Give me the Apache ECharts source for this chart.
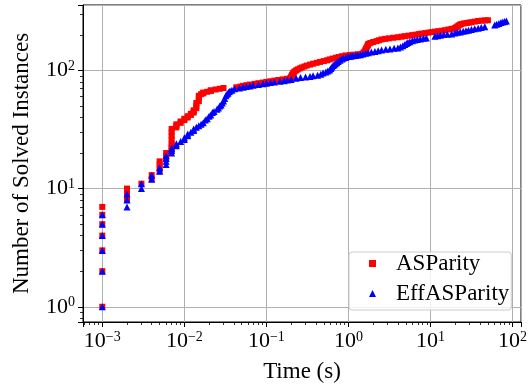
<!DOCTYPE html>
<html>
<head>
<meta charset="utf-8">
<script src="https://cdn.jsdelivr.net/npm/echarts@6/dist/echarts.min.js"></script>
<style>
  html, body { margin: 0; padding: 0; background: #fff; }
  #chart { width: 531px; height: 388px; }
</style>
</head>
<body>
<div id="chart"></div>
<script>
// [time (s), number of solved instances]
const asParity = [
  [0.001, 1], [0.001, 2], [0.001, 3], [0.001, 4], [0.001, 5], [0.001, 6], [0.001, 7],
  [0.002, 8], [0.002, 9], [0.002, 10], [0.003, 11], [0.004, 12], [0.004, 13],
  [0.005, 14], [0.005, 15], [0.005, 16], [0.005, 17], [0.006, 18], [0.006, 19], [0.006, 20],
  [0.007, 21], [0.007, 22], [0.007, 23], [0.007, 24], [0.007, 26], [0.007, 28], [0.007, 30], [0.007, 32],
  [0.008, 33], [0.008, 34], [0.008, 35], [0.009, 36], [0.009, 37], [0.01, 38], [0.01, 39],
  [0.011, 40], [0.011, 41], [0.012, 42], [0.012, 43], [0.013, 44], [0.013, 45], [0.013, 46],
  [0.014, 48], [0.014, 50], [0.014, 53], [0.015, 55], [0.015, 58], [0.015, 61],
  [0.016, 63], [0.017, 64], [0.017, 65], [0.019, 66], [0.021, 67], [0.021, 68], [0.024, 69], [0.027, 70],
  [0.03, 71], [0.043, 72], [0.048, 73], [0.052, 74], [0.057, 75], [0.063, 76], [0.072, 77],
  [0.08, 78], [0.09, 79], [0.1, 80], [0.112, 81], [0.125, 82], [0.14, 83], [0.158, 84], [0.178, 85], [0.195, 86],
  [0.2, 88], [0.203, 90], [0.206, 92], [0.21, 94], [0.215, 96], [0.22, 98], [0.23, 100], [0.24, 102],
  [0.255, 104], [0.27, 106], [0.29, 108], [0.31, 110], [0.34, 112], [0.37, 114], [0.41, 116], [0.45, 118],
  [0.5, 120], [0.55, 122], [0.59, 124], [0.64, 126], [0.7, 128], [0.76, 130], [0.83, 132], [0.92, 134],
  [1.04, 135], [1.15, 136], [1.3, 137], [1.45, 138],
  [1.52, 141], [1.56, 144], [1.6, 148], [1.63, 152], [1.66, 156], [1.7, 160], [1.72, 164], [1.75, 168],
  [1.85, 171], [2.0, 174], [2.2, 177], [2.35, 180], [2.53, 183], [2.8, 185], [3.1, 187], [3.5, 189],
  [4.0, 191], [4.4, 193], [4.86, 195], [5.4, 197], [6.0, 199], [6.6, 201], [7.2, 203], [7.76, 205],
  [8.6, 207], [9.4, 209], [10.3, 211], [11.3, 213], [12.4, 215], [13.7, 217], [15, 219], [16.5, 222],
  [18, 225], [19.8, 228], [20.6, 232], [21.3, 236], [22, 240], [22.8, 244], [23.8, 247], [25.5, 250],
  [27.5, 252], [29.5, 254], [31.5, 256], [34.6, 259], [38, 262], [42, 264], [46, 265], [50, 266]
];

const effAsParity = [
  [0.001, 1], [0.001, 2], [0.001, 3], [0.001, 4], [0.001, 5], [0.001, 6],
  [0.002, 7], [0.002, 8], [0.002, 9], [0.003, 10], [0.003, 11], [0.004, 12], [0.004, 13],
  [0.005, 14], [0.005, 15], [0.006, 16], [0.006, 17], [0.006, 18], [0.006, 19],
  [0.007, 20], [0.007, 21], [0.007, 22], [0.008, 23], [0.008, 24], [0.009, 25], [0.01, 26], [0.01, 27],
  [0.011, 28], [0.011, 29], [0.012, 30], [0.013, 31], [0.013, 32], [0.014, 33], [0.015, 34], [0.016, 35],
  [0.017, 36], [0.018, 38], [0.019, 39], [0.02, 41], [0.021, 42], [0.022, 44], [0.023, 45], [0.025, 47],
  [0.026, 48], [0.027, 50], [0.028, 51], [0.029, 53], [0.03, 55], [0.031, 58], [0.032, 61], [0.033, 63],
  [0.034, 64], [0.035, 66], [0.036, 67], [0.038, 68], [0.041, 70], [0.047, 71], [0.052, 72], [0.057, 73],
  [0.063, 74], [0.069, 75], [0.08, 76], [0.091, 77], [0.1, 78], [0.112, 79], [0.125, 80], [0.146, 81],
  [0.165, 82], [0.18, 83], [0.2, 84], [0.23, 86], [0.26, 87], [0.3, 88], [0.34, 89], [0.37, 90],
  [0.42, 91], [0.46, 93], [0.49, 95], [0.53, 97], [0.56, 99], [0.59, 101], [0.61, 104], [0.63, 107],
  [0.65, 110], [0.67, 112], [0.69, 114], [0.72, 116], [0.75, 119], [0.79, 122], [0.83, 125], [0.86, 127],
  [0.93, 129], [1.0, 131], [1.07, 132], [1.13, 133], [1.22, 134], [1.3, 135], [1.4, 136], [1.5, 138],
  [1.62, 140], [1.74, 141], [1.9, 143], [2.1, 145], [2.3, 147], [2.53, 149], [2.85, 151], [3.2, 152],
  [3.6, 154], [4.0, 155], [4.3, 158], [4.6, 162], [4.86, 166], [5.1, 169], [5.3, 172], [5.6, 175],
  [6.0, 178], [6.4, 181], [6.9, 183], [7.5, 185], [8.2, 187], [8.9, 188],
  [11.3, 195], [12.2, 197], [13.2, 199], [14.5, 201], [16, 202], [18.1, 203],
  [19.8, 207], [21.3, 210], [23, 212], [25, 215], [27, 217], [29, 219], [31.5, 222], [34.5, 225],
  [38, 228], [41.5, 231], [45.8, 234],
  [60.5, 242], [64, 246], [68, 250], [72, 254], [76, 257], [80, 260], [84, 262]
];

const seriesNames = ["ASParity", "EffASParity"];
const xRange = [0.000582, 126.5];
const yRange = [0.743, 358];

const serif = "'Liberation Serif', 'DejaVu Serif', serif";

function powLabel(value) {
  const e = Math.round(Math.log10(value));
  return "{b|10}{s|" + (e < 0 ? "\u2212" + -e : e) + "}";
}

function tickLabels(margin) {
  return {
    showMinLabel: false,
    showMaxLabel: false,
    margin: margin,
    fontFamily: serif,
    fontSize: 22,
    color: "#000",
    formatter: powLabel,
    rich: {
      b: { fontFamily: serif, fontSize: 22, color: "#000" },
      s: { fontFamily: serif, fontSize: 14, color: "#000", verticalAlign: "top" },
    },
  };
}

function logAxis(range, name, nameGap, labelMargin) {
  return {
    type: "log",
    logBase: 10,
    min: range[0],
    max: range[1],
    name: name,
    nameLocation: "middle",
    nameGap: nameGap,
    nameTextStyle: { fontFamily: serif, fontSize: 23, color: "#000" },
    axisLine: { show: true, lineStyle: { color: "#000", width: 1 } },
    axisTick: { show: true, inside: false, length: 5, lineStyle: { color: "#000", width: 1 } },
    minorTick: { show: true, splitNumber: 9, length: 3, lineStyle: { color: "#000", width: 0.8 } },
    splitLine: { show: true, lineStyle: { color: "#b0b0b0", width: 1 } },
    axisLabel: tickLabels(labelMargin),
  };
}

const chart = echarts.init(document.getElementById("chart"));
chart.setOption({
  animation: false,
  backgroundColor: "#fff",
  grid: {
    left: 83,
    right: 10,
    top: 5,
    bottom: 65,
    show: true,
    borderColor: "#000",
    borderWidth: 1,
  },
  legend: {
    orient: "vertical",
    left: 349,
    top: 252,
    padding: [0, 2, 5, 20],
    itemWidth: 7,
    itemHeight: 7,
    itemGap: 7,
    borderColor: "#cccccc",
    borderWidth: 1,
    borderRadius: 3,
    backgroundColor: "rgba(255,255,255,0.8)",
    textStyle: { fontFamily: serif, fontSize: 23, lineHeight: 18, color: "#000", padding: [0, 0, 0, 15] },
    data: seriesNames,
  },
  xAxis: logAxis(xRange, "Time (s)", 38, 8),
  yAxis: logAxis(yRange, "Number of Solved Instances", 50, 8),
  series: [
    {
      name: seriesNames[0],
      type: "scatter",
      symbol: "rect",
      symbolSize: 6,
      itemStyle: { color: "#ff0000", opacity: 1 },
      data: asParity,
    },
    {
      name: seriesNames[1],
      type: "scatter",
      symbol: "triangle",
      symbolSize: 7,
      itemStyle: { color: "#0000ff", opacity: 1 },
      data: effAsParity,
    },
  ],
});
</script>
</body>
</html>
